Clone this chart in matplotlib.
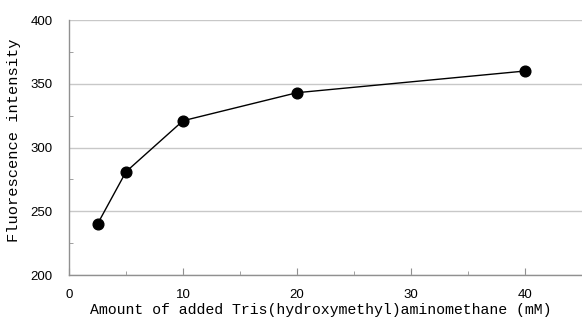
import matplotlib
matplotlib.use("Agg")
import matplotlib.pyplot as plt
from matplotlib.ticker import MultipleLocator

# Datos
tris_mM = [2.5, 5, 10, 20, 40]
fluorescencia = [240, 281, 321, 343, 360]

fig = plt.figure(figsize=(5.82, 3.23), dpi=100)
ax = fig.add_axes([0.1186, 0.1486, 0.8814, 0.7894])

ax.plot(tris_mM, fluorescencia, color='black', linewidth=1,
        marker='o', markersize=7.7, markerfacecolor='black', markeredgecolor='black')

ax.set_xlim(0, 45)
ax.set_ylim(200, 400)
ax.xaxis.set_major_locator(MultipleLocator(10))
ax.xaxis.set_minor_locator(MultipleLocator(5))
ax.yaxis.set_major_locator(MultipleLocator(50))
ax.yaxis.set_minor_locator(MultipleLocator(25))
ax.set_xticks([0, 10, 20, 30, 40])

ax.grid(axis='y', which='major', color='#c8c8c8', linewidth=1)
ax.set_axisbelow(True)

for lado in ['top', 'right']:
    ax.spines[lado].set_visible(False)
for lado in ['left', 'bottom']:
    ax.spines[lado].set_color('#909090')
    ax.spines[lado].set_linewidth(1)

ax.tick_params(which='both', direction='in', color='#909090', labelsize=9.5)
ax.tick_params(which='major', length=5)
ax.tick_params(which='minor', length=3)
ax.tick_params(axis='y', which='major', length=0, pad=12)
ax.tick_params(axis='x', which='major', pad=10)
for lbl in ax.get_xticklabels() + ax.get_yticklabels():
    lbl.set_family('Liberation Sans')

ax.set_xlabel('Amount of added Tris(hydroxymethyl)aminomethane (mM)',
              family='Liberation Mono', fontsize=10.7)
ax.set_ylabel('Fluorescence intensity', family='Liberation Mono', fontsize=11.1)
ax.xaxis.set_label_coords(0.491, -0.11)
ax.yaxis.set_label_coords(-0.093, 0.527)

plt.savefig('out.png', dpi=100)
